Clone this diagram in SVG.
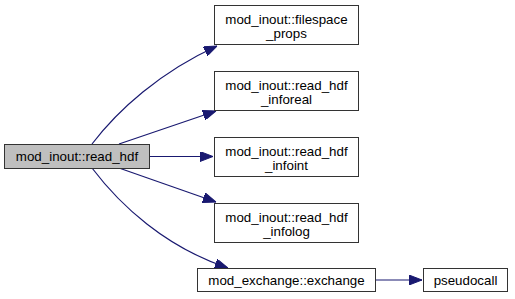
<svg xmlns="http://www.w3.org/2000/svg" width="515" height="299" viewBox="0 0 515 299">
  <style>
    .node rect { fill: #ffffff; stroke: #333333; stroke-width: 1; }
    .node.root rect { fill: #bfbfbf; }
    .node text { font-family: "Liberation Sans", Arial, Helvetica, sans-serif; font-size: 13.33px; fill: #000000; text-anchor: middle; }
    .edge { fill: none; stroke: #191970; stroke-width: 1.2; }
  </style>
  <defs>
    <marker id="arrowhead" markerWidth="13" markerHeight="10" refX="13" refY="5" orient="auto" markerUnits="userSpaceOnUse">
      <path d="M0,0 L13,5 L0,10 z" fill="#191970" stroke="#191970" stroke-width="1"/>
    </marker>
  </defs>

  <!-- call edges -->
  <g id="edges">
    <path class="edge" d="M92,144 C118,110 160,72 217,46" marker-end="url(#arrowhead)"/>
    <path class="edge" d="M119,144 L216,111" marker-end="url(#arrowhead)"/>
    <path class="edge" d="M149,156.5 L213,156.5" marker-end="url(#arrowhead)"/>
    <path class="edge" d="M119,168 L216,202" marker-end="url(#arrowhead)"/>
    <path class="edge" d="M92,168 C120,205 165,247 228,268" marker-end="url(#arrowhead)"/>
    <path class="edge" d="M376,280 L422,280" marker-end="url(#arrowhead)"/>
  </g>

  <g id="node-read_hdf" class="node root">
    <rect x="4.5" y="144.5" width="145" height="24"/>
    <text x="77" y="161">mod_inout::read_hdf</text>
  </g>

  <g id="node-filespace_props" class="node">
    <rect x="214.5" y="5.5" width="144" height="39"/>
    <text x="286.5" y="24">mod_inout::filespace</text>
    <text x="286.5" y="38">_props</text>
  </g>

  <g id="node-read_hdf_inforeal" class="node">
    <rect x="214.5" y="71.5" width="144" height="39"/>
    <text x="286.5" y="90">mod_inout::read_hdf</text>
    <text x="286.5" y="104">_inforeal</text>
  </g>

  <g id="node-read_hdf_infoint" class="node">
    <rect x="214.5" y="137.5" width="144" height="39"/>
    <text x="286.5" y="156">mod_inout::read_hdf</text>
    <text x="286.5" y="170">_infoint</text>
  </g>

  <g id="node-read_hdf_infolog" class="node">
    <rect x="214.5" y="203.5" width="144" height="39"/>
    <text x="286.5" y="222">mod_inout::read_hdf</text>
    <text x="286.5" y="236">_infolog</text>
  </g>

  <g id="node-exchange" class="node">
    <rect x="197.5" y="268.5" width="178" height="23"/>
    <text x="286.5" y="285">mod_exchange::exchange</text>
  </g>

  <g id="node-pseudocall" class="node">
    <rect x="423.5" y="268.5" width="84" height="23"/>
    <text x="465.5" y="285">pseudocall</text>
  </g>
</svg>
